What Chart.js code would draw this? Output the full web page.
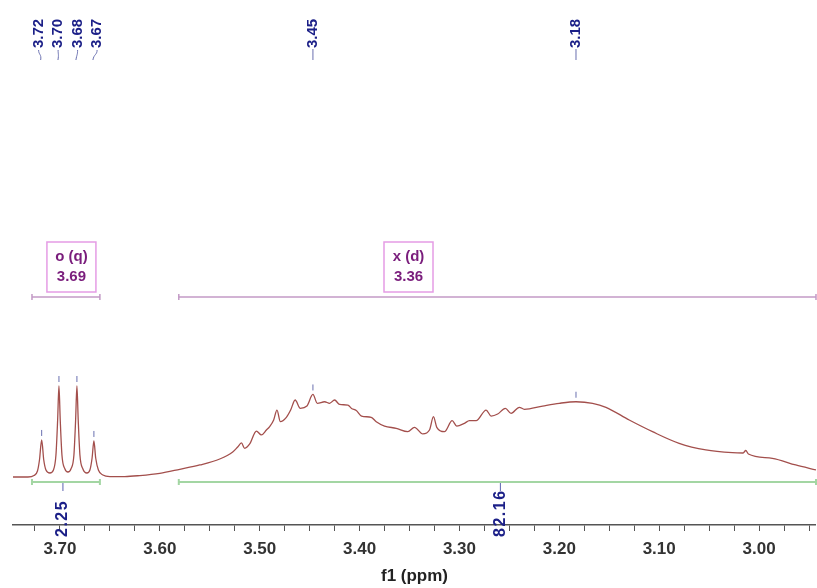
<!DOCTYPE html>
<html>
<head>
<meta charset="utf-8">
<script src="https://cdn.jsdelivr.net/npm/chart.js@4/dist/chart.umd.min.js"></script>
<style>
  body { margin: 0; background: #fff; }
  canvas { display: block; }
</style>
</head>
<body>
<canvas id="nmr" width="817" height="588"></canvas>
<script>
// 1H spectrum trace (ppm, relative intensity)
const ppm = [
  3.747, 3.732, 3.726, 3.7225, 3.7205, 3.7183, 3.7162, 3.714, 3.710, 3.7065,
  3.704, 3.7023, 3.701, 3.6997, 3.698, 3.695, 3.692, 3.689, 3.686, 3.6843,
  3.683, 3.6817, 3.680, 3.677, 3.673, 3.670, 3.6678, 3.666, 3.6642, 3.6615,
  3.657, 3.650, 3.635, 3.620, 3.600, 3.580, 3.560, 3.540, 3.527, 3.522,
  3.5183, 3.515, 3.510, 3.5033, 3.4983, 3.4933, 3.490, 3.486, 3.4827, 3.4793,
  3.4733, 3.469, 3.4645, 3.4593, 3.4527, 3.4467, 3.4423, 3.435, 3.430, 3.425,
  3.420, 3.4117, 3.408, 3.4033, 3.398, 3.3883, 3.3833, 3.375, 3.3633, 3.3517,
  3.345, 3.3367, 3.330, 3.326, 3.3227, 3.315, 3.3073, 3.3027, 3.295, 3.290,
  3.2833, 3.2733, 3.2683, 3.2617, 3.254, 3.2483, 3.240, 3.235, 3.2167, 3.200,
  3.1833, 3.1667, 3.1533, 3.130, 3.1067, 3.080, 3.0533, 3.0267, 3.016, 3.0133,
  3.0107, 2.9867, 2.9633, 2.943
];
const intensity = [
  0, 0, 1.6, 6.6, 18.7, 40.7, 18.7, 7.7, 4.4, 7.7,
  24.2, 62.6, 100, 62.6, 24.2, 8.8, 5.5, 8.8, 24.2, 62.6,
  100, 62.6, 24.2, 8.8, 4.4, 7.7, 20.9, 39.6, 20.9, 7.7,
  2.2, 0.5, 0.5, 1.6, 4.1, 8.5, 13.2, 19.8, 27.5, 33.0,
  37.4, 31.5, 36.3, 50.5, 46.2, 51.6, 55.3, 62.6, 73.6, 60.8,
  65.6, 73.6, 84.6, 75.5, 78.0, 90.7, 81.0, 82.7, 81.0, 84.6,
  79.7, 79.1, 75.3, 73.1, 67.0, 65.6, 60.8, 56.0, 53.5, 49.8,
  54.6, 47.3, 51.6, 66.3, 54.6, 49.8, 61.9, 56.0, 59.0, 61.9,
  61.9, 73.6, 67.0, 69.2, 75.5, 70.0, 76.6, 74.4, 78.0, 81.0,
  82.7, 81.0, 76.6, 62.6, 49.8, 37.0, 29.7, 26.7, 26.4, 29.1,
  25.3, 20.5, 13.2, 7.7
];

// peak picking
const peakPpm = [3.7183, 3.701, 3.683, 3.666, 3.4467, 3.1833];
const peakHeight = [40.7, 100, 100, 39.6, 90.7, 82.7];
const peakLabels = ['3.72', '3.70', '3.68', '3.67', '3.45', '3.18'];

// multiplets
const multipletNames = ['o (q)', 'x (d)'];
const multipletShifts = ['3.69', '3.36'];
const multipletBoxPpm = [3.6885, 3.351];
const rangeStart = [3.728, 3.581];
const rangeEnd = [3.660, 2.940];
const integralValues = ['2.25', '82.16'];
const integralPpm = [3.697, 3.259];

const navy = '#1c2088';
const labelFont = 'bold 15px "Liberation Sans", Arial, sans-serif';

function vText(ctx, text, x, yStart) {
  ctx.save();
  ctx.translate(x, yStart);
  ctx.rotate(-Math.PI / 2);
  ctx.textAlign = 'left';
  ctx.textBaseline = 'middle';
  ctx.fillText(text, 0, 0);
  ctx.restore();
}

const annotations = {
  id: 'annotations',
  afterDraw(chart) {
    const ctx = chart.ctx;
    const xs = chart.scales.x, ys = chart.scales.y;
    const area = chart.chartArea;
    const clampX = v => Math.max(area.left, Math.min(area.right, v));

    // peak labels on top
    const px = peakPpm.map(p => xs.getPixelForValue(p));
    const qCenter = (px[0] + px[1] + px[2] + px[3]) / 4;
    ctx.save();
    ctx.font = labelFont;
    ctx.fillStyle = navy;
    ctx.strokeStyle = '#6a70b0';
    ctx.lineWidth = 1;
    peakLabels.forEach((t, i) => {
      const lx = i < 4 ? qCenter + (i - 1.5) * 19.5 : px[i];
      vText(ctx, t, lx, 48);
      ctx.beginPath();
      if (i < 4) {
        ctx.moveTo(lx, 50);
        ctx.bezierCurveTo(lx, 55, px[i], 54, px[i] - 1, 60);
      } else {
        ctx.moveTo(lx, 49);
        ctx.lineTo(lx, 60);
      }
      ctx.stroke();
      // small mark above the peak
      const py = ys.getPixelForValue(peakHeight[i]);
      ctx.beginPath();
      ctx.moveTo(px[i], py - 10);
      ctx.lineTo(px[i], py - 4);
      ctx.stroke();
    });
    ctx.restore();

    // multiplet ranges, boxes, integrals
    ctx.save();
    multipletNames.forEach((name, i) => {
      const x1 = clampX(xs.getPixelForValue(rangeStart[i]));
      const x2 = clampX(xs.getPixelForValue(rangeEnd[i]));
      // purple multiplet bracket
      ctx.strokeStyle = '#c39ac6';
      ctx.lineWidth = 1.5;
      ctx.beginPath();
      ctx.moveTo(x1, 297); ctx.lineTo(x2, 297);
      ctx.moveTo(x1, 294); ctx.lineTo(x1, 300);
      ctx.moveTo(x2, 294); ctx.lineTo(x2, 300);
      ctx.stroke();
      // green integral bracket
      ctx.strokeStyle = '#a3d6a3';
      ctx.lineWidth = 2;
      ctx.beginPath();
      ctx.moveTo(x1, 482); ctx.lineTo(x2, 482);
      ctx.moveTo(x1, 479); ctx.lineTo(x1, 485);
      ctx.moveTo(x2, 479); ctx.lineTo(x2, 485);
      ctx.stroke();

      // label box
      const bx = xs.getPixelForValue(multipletBoxPpm[i]);
      ctx.fillStyle = '#fff';
      ctx.fillRect(bx - 24.5, 242, 49, 50);
      ctx.strokeStyle = '#e59ce5';
      ctx.lineWidth = 1.5;
      ctx.strokeRect(bx - 24.5, 242, 49, 50);
      ctx.fillStyle = '#7a1d7c';
      ctx.font = labelFont;
      ctx.textAlign = 'center';
      ctx.textBaseline = 'middle';
      ctx.fillText(name, bx, 257);
      ctx.fillText(multipletShifts[i], bx, 277);

      // integral value
      const ix = xs.getPixelForValue(integralPpm[i]);
      ctx.strokeStyle = '#5a62b0';
      ctx.lineWidth = 1;
      ctx.beginPath();
      ctx.moveTo(ix, 483); ctx.lineTo(ix, 491);
      ctx.stroke();
      ctx.fillStyle = navy;
      ctx.font = 'bold 16px "Liberation Sans", Arial, sans-serif';
      ctx.letterSpacing = '1.5px';
      vText(ctx, integralValues[i], ix, 537);
      ctx.letterSpacing = '0px';
    });
    ctx.restore();
  }
};

new Chart(document.getElementById('nmr'), {
  type: 'line',
  data: {
    datasets: [{
      data: ppm.map((p, i) => ({x: p, y: intensity[i]})),
      borderColor: '#a34f4c',
      borderWidth: 1.3,
      pointRadius: 0,
      cubicInterpolationMode: 'monotone',
      fill: false
    }]
  },
  options: {
    responsive: false,
    animation: false,
    devicePixelRatio: 1,
    layout: { padding: { left: 13, right: 0, top: 0, bottom: 0 } },
    plugins: { legend: { display: false }, tooltip: { enabled: false } },
    scales: {
      x: {
        type: 'linear',
        reverse: true,
        min: 2.943,
        max: 3.747,
        border: { color: '#555', width: 1.5 },
        grid: { drawOnChartArea: false, tickLength: 6, color: '#555' },
        ticks: {
          stepSize: 0.025,
          autoSkip: false,
          maxRotation: 0,
          includeBounds: false,
          padding: 8,
          color: '#333',
          font: { family: '"Liberation Sans", Arial, sans-serif', size: 17, weight: 'bold' },
          callback: v => Math.abs(v * 10 - Math.round(v * 10)) < 1e-6 ? v.toFixed(2) : ''
        },
        title: {
          display: true,
          text: 'f1 (ppm)',
          color: '#222',
          font: { family: '"Liberation Sans", Arial, sans-serif', size: 17, weight: 'bold' },
          padding: { top: 0, bottom: 1 }
        },
        afterFit: s => { s.height = 63; }
      },
      y: { display: false, min: -52.75, max: 524.2 }
    }
  },
  plugins: [annotations]
});
</script>
</body>
</html>
